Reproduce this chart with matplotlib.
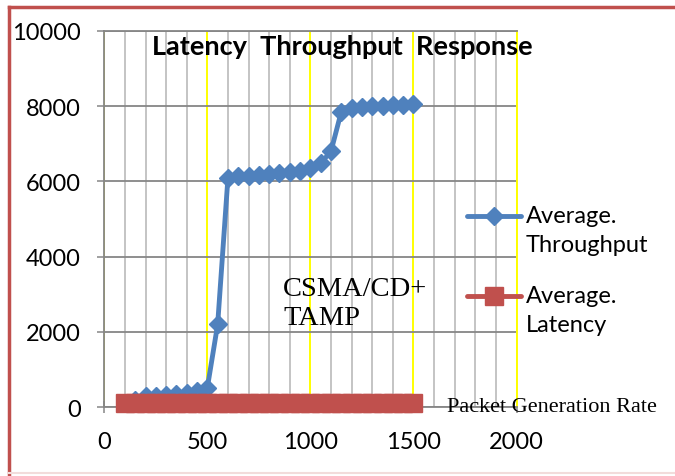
import matplotlib.pyplot as plt
from matplotlib.lines import Line2D

# packet generation rate (x) and the two measured series
rate = list(range(100, 1550, 50))
throughput = [120, 200, 300, 310, 330, 350, 380, 420, 520, 2200,
              6100, 6130, 6150, 6180, 6200, 6230, 6250, 6280, 6350, 6480,
              6800, 7850, 7950, 7980, 8000, 8010, 8030, 8040, 8060]
latency = [110, 108, 112, 105, 110, 108, 106, 110, 112, 115,
           110, 108, 110, 112, 110, 108, 110, 106, 110, 112,
           110, 108, 110, 112, 110, 108, 110, 110, 112]

x_ticks = [0, 500, 1000, 1500, 2000]
y_ticks = [0, 2000, 4000, 6000, 8000, 10000]

blue = '#4F81BD'
red = '#C0504D'
label_font = 'Lato'

W, H = 675, 477
fig = plt.figure(figsize=(W / 100, H / 100), dpi=100)
ax = fig.add_axes([104.3 / W, 1 - 408.3 / H, (516.5 - 104.3) / W, (408.3 - 31.7) / H])

ax.set_xlim(0, 2000)
ax.set_ylim(0, 10000)
ax.set_xticks(x_ticks)
ax.set_xticks(range(0, 2001, 100), minor=True)
ax.set_yticks(y_ticks)

ax.set_axisbelow(True)
ax.grid(which='minor', axis='x', color='#BFBFBF', lw=1.3)
ax.grid(which='major', axis='x', color='#FFFF00', lw=1.4)
ax.grid(which='major', axis='y', color='#868686', lw=1.3)

for side in ['left', 'bottom', 'top']:
    ax.spines[side].set_color('#868686')
    ax.spines[side].set_linewidth(1.3)
ax.spines['right'].set_color('#FFFF00')
ax.spines['right'].set_linewidth(1.4)

ax.tick_params(axis='y', which='major', direction='out', length=5, width=1.1,
               color='#868686', pad=12, labelsize=17)
ax.tick_params(axis='x', which='major', direction='inout', length=8, width=1.1,
               color='#868686', pad=13, labelsize=17)
ax.tick_params(which='minor', length=0)
for lab in ax.get_xticklabels() + ax.get_yticklabels():
    lab.set_family(label_font)

ax.plot(rate, throughput, color=blue, lw=3.5, marker='D', ms=9,
        mec=blue, mew=1, zorder=3, clip_on=False)
ax.plot(rate, latency, color=red, lw=3.5, marker='s', ms=13,
        mec=red, mew=1, zorder=4, clip_on=False)


# legend drawn by hand, handle beside the first line of each label
def legend_entry(y_px, color, marker, ms, label):
    y = 1 - y_px / H
    fig.add_artist(Line2D([467 / W, 521 / W], [y, y], color=color, lw=3.5,
                          solid_capstyle='round'))
    fig.add_artist(Line2D([494 / W], [y], color=color, marker=marker, ms=ms,
                          mec=color))
    fig.text(526 / W, 1 - (y_px - 11) / H, label, family=label_font,
             fontsize=17, ha='left', va='top', linespacing=1.5)


legend_entry(216.7, blue, 'D', 9, 'Average.\nThroughput')
legend_entry(297, red, 's', 13, 'Average.\nLatency')

fig.text(342 / W, 1 - 47 / H, 'Latency  Throughput  Response', family=label_font,
         fontweight='bold', fontsize=19.5, ha='center', va='center')
fig.text(283 / W, 1 - 277 / H, 'CSMA/CD+\nTAMP', family='Liberation Serif',
         fontsize=20.5, ha='left', va='top', linespacing=1.2)
fig.text(447 / W, 1 - 408 / H, 'Packet Generation Rate', family='Liberation Serif',
         fontsize=16, ha='left', va='center')

# page frame around the chart
fig.add_artist(Line2D([9 / W, 9 / W], [0, 1 - 8 / H], color=red, lw=2.5))
fig.add_artist(Line2D([9 / W, 1], [1 - 8 / H] * 2, color=red, lw=2.5))
fig.add_artist(Line2D([9 / W, 1], [1 - 474 / H] * 2, color='#F2DCDB', lw=1.5))

fig.savefig('out.png', dpi=100)
